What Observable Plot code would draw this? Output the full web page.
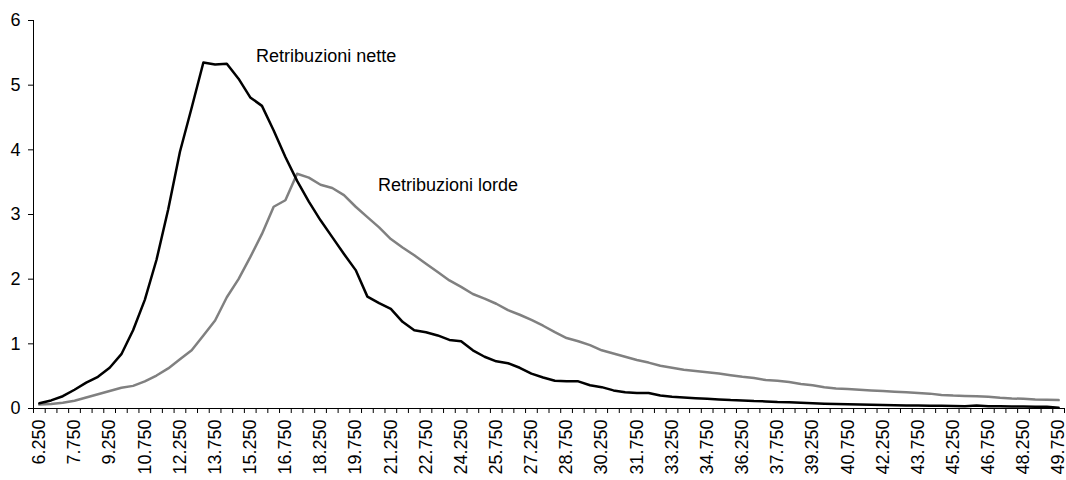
<!DOCTYPE html>
<html><head><meta charset="utf-8">
<script src="https://cdn.jsdelivr.net/npm/d3@7"></script>
<script src="https://cdn.jsdelivr.net/npm/@observablehq/plot@0.6"></script>
<style>body{margin:0;background:#fff} svg{font-family:"Liberation Sans",Arial,sans-serif}</style>
</head><body><div id="chart"></div>
<script>
const start = 6250, step = 500;
const nette = [0.08,0.125,0.19,0.29,0.40,0.49,0.63,0.84,1.21,1.68,2.30,3.08,3.97,4.65,5.35,5.32,5.33,5.10,4.81,4.68,
  4.30,3.89,3.52,3.20,2.91,2.65,2.39,2.14,1.73,1.63,1.54,1.34,1.21,1.18,1.13,1.06,1.04,0.90,0.80,0.73,
  0.70,0.63,0.54,0.48,0.43,0.42,0.42,0.36,0.33,0.28,0.25,0.24,0.24,0.20,0.18,0.17,0.16,0.15,0.14,0.13,
  0.125,0.115,0.11,0.10,0.095,0.088,0.083,0.075,0.07,0.065,0.062,0.058,0.055,0.052,0.048,0.046,0.043,0.041,0.038,0.036,
  0.045,0.036,0.033,0.031,0.031,0.028,0.026,0.012];
const lorde = [0.06,0.07,0.09,0.12,0.17,0.22,0.27,0.32,0.35,0.42,0.51,0.62,0.76,0.90,1.13,1.36,1.72,2.00,2.34,2.70,
  3.12,3.22,3.63,3.57,3.46,3.41,3.30,3.12,2.96,2.80,2.62,2.49,2.37,2.24,2.11,1.98,1.88,1.77,1.70,1.62,
  1.52,1.45,1.37,1.28,1.18,1.09,1.04,0.98,0.90,0.85,0.80,0.75,0.71,0.66,0.63,0.60,0.58,0.56,0.54,0.515,
  0.49,0.47,0.44,0.43,0.41,0.38,0.36,0.33,0.31,0.30,0.29,0.28,0.27,0.26,0.25,0.24,0.23,0.21,0.20,0.195,
  0.19,0.18,0.165,0.155,0.15,0.14,0.135,0.13];
const yTicks = [0,1,2,3,4,5,6];
const seriesNames = ["Retribuzioni nette","Retribuzioni lorde"];
const labelX = [15500, 20700];
const labelY = [5.44, 3.46];

const incomes = nette.map((_, i) => start + step * i);
const netteData = incomes.map((x, i) => ({x, y: nette[i]}));
const lordeData = incomes.map((x, i) => ({x, y: lorde[i]}));
const xDomain = [incomes[0] - step / 2, incomes[incomes.length - 1] + step / 2];
const boundaries = d3.range(incomes.length + 1).map(i => xDomain[0] + i * step);
const labelTicks = incomes.filter((_, i) => i % 3 === 0);
const fmt = d3.formatLocale({decimal: ",", thousands: ".", grouping: [3], currency: ["€", ""]}).format(",");
const labels = seriesNames.map((name, i) => ({name, x: labelX[i], y: labelY[i]}));

const chart = Plot.plot({
  width: 1066, height: 480,
  marginLeft: 33, marginRight: 2, marginTop: 20, marginBottom: 72,
  style: {fontSize: "18px", fontFamily: "'Liberation Sans', Arial, sans-serif", color: "#000", background: "#fff"},
  x: {type: "linear", domain: xDomain},
  y: {domain: [0, 6]},
  marks: [
    Plot.axisY({ticks: yTicks, tickSize: 5, tickPadding: 8, label: null, tickFormat: d => String(d), fontSize: 18}),
    Plot.axisX({ticks: boundaries, tickSize: 5, tickFormat: () => "", label: null}),
    Plot.axisX({ticks: labelTicks, tickSize: 0, tickRotate: -90, tickPadding: 11, tickFormat: fmt, label: null, fontSize: 18}),
    Plot.ruleX([xDomain[0]], {stroke: "#000"}),
    Plot.ruleY([0], {stroke: "#000"}),
    Plot.line(lordeData, {x: "x", y: "y", stroke: "#808080", strokeWidth: 2.5}),
    Plot.line(netteData, {x: "x", y: "y", stroke: "#000", strokeWidth: 2.5}),
    Plot.text(labels, {x: "x", y: "y", text: "name", textAnchor: "start", fontSize: 18, fill: "#000"})
  ]
});
document.getElementById("chart").append(chart);
</script>
</body></html>
